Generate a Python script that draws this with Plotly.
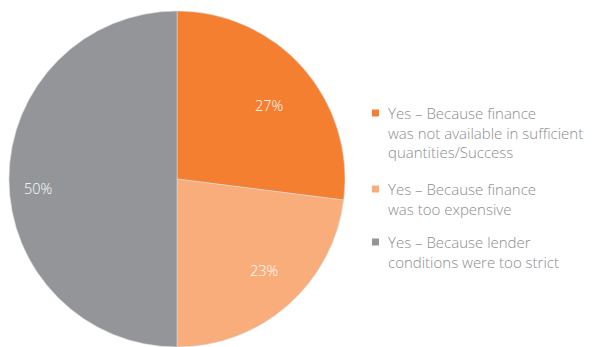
import math
import plotly.graph_objects as go

# Survey responses (share of respondents)
labels = [
    "Yes – Because finance<br>was not available in sufficient<br>quantities/Success",
    "Yes – Because finance<br>was too expensive",
    "Yes – Because lender<br>conditions were too strict",
]
values = [27, 23, 50]
colors = ["#F47F31", "#F9AD7A", "#939598"]

W, H = 595, 347
cx, cy, R = 177, 179, 168           # pie centre / radius in pixels
label_radius = [0.70, 0.75, 0.83]   # radial position of the % labels
label_shift = [2.5, -2.0, -4.0]     # angular nudge of the % labels (deg)

FONT = "Open Sans"

fig = go.Figure(
    go.Pie(
        labels=labels,
        values=values,
        sort=False,
        direction="clockwise",
        rotation=0,
        marker=dict(colors=colors, line=dict(color="#d8d8d8", width=0.6)),
        textinfo="none",
        hoverinfo="label+percent",
        showlegend=False,
        domain=dict(x=[(cx - R) / W, (cx + R) / W], y=[(H - cy - R) / H, (H - cy + R) / H]),
    )
)

annotations = []
total = sum(values)
cum = 0
for v, rf, sh in zip(values, label_radius, label_shift):
    mid = (cum + v / 2) / total * 2 * math.pi + math.radians(sh)
    cum += v
    px = cx + rf * R * math.sin(mid)
    py = cy - rf * R * math.cos(mid)
    annotations.append(dict(
        x=px / W, y=1 - py / H, xref="paper", yref="paper",
        text=f"{round(v / total * 100)}%", showarrow=False,
        font=dict(color="white", size=14.5, family=FONT, weight=300),
        xanchor="center", yanchor="middle",
    ))

# Legend: square swatch + multi-line text
legend_top = [113, 189, 242]   # y (centre) of first text line for each entry
shapes = []
for lab, col, ty in zip(labels, colors, legend_top):
    shapes.append(dict(type="rect", xref="paper", yref="paper",
                       x0=372 / W, x1=379 / W, y0=1 - (ty + 3.5) / H, y1=1 - (ty - 3.5) / H,
                       fillcolor=col, line=dict(width=0)))
    annotations.append(dict(
        x=387 / W, y=1 - (ty - 11.5) / H, xref="paper", yref="paper",
        text=lab, showarrow=False, align="left", borderpad=0,
        xanchor="left", yanchor="top",
        font=dict(color="#8b8d8f", size=15, family=FONT, weight=300),
    ))

fig.update_layout(
    width=W, height=H,
    margin=dict(l=0, r=0, t=0, b=0),
    paper_bgcolor="white",
    plot_bgcolor="white",
    annotations=annotations,
    shapes=shapes,
)

fig.write_html("out.html")
